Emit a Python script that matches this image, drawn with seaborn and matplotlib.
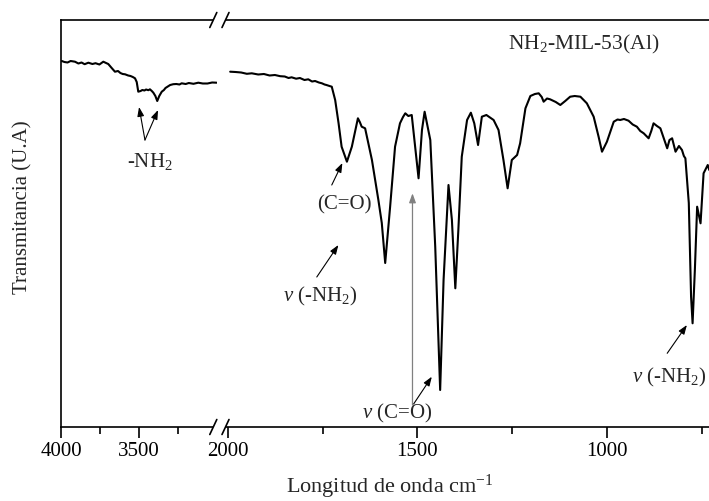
import matplotlib
matplotlib.use("Agg")
import matplotlib.pyplot as plt
import seaborn as sns
import pandas as pd
from matplotlib.lines import Line2D
from matplotlib.patches import Polygon

# ---------------- data ----------------
wn_high = [3997, 3980, 3960, 3940, 3912, 3890, 3870, 3850, 3826, 3800, 3780, 3755,
           3730, 3712, 3698, 3676, 3655, 3635, 3620, 3605, 3590, 3570, 3555, 3540,
           3526, 3515, 3505, 3490, 3479, 3465, 3455, 3440, 3430, 3418, 3408, 3395,
           3383, 3370, 3354, 3340, 3330, 3315, 3300, 3280, 3260, 3240, 3226, 3200,
           3180, 3150, 3119, 3090, 3060, 3030, 3001]
t_high = [366, 365, 364.5, 366, 365.3, 363.5, 364.5, 362.8, 364.3, 363, 363.8, 362.5,
          365.3, 364, 363, 359, 355.3, 356, 354, 353, 352.7, 351.5, 351, 350,
          348.7, 345, 335.3, 336, 337, 336.5, 337.5, 336.8, 337.7, 336, 334.3, 331,
          326, 331, 335.3, 337, 339, 340.5, 342, 342.8, 343, 342.5, 343.7, 343,
          344, 343.2, 344.3, 343.5, 343.5, 344.5, 344.3]

wn_low = [1994, 1980, 1965, 1950, 1937, 1920, 1905, 1890, 1876, 1862, 1850, 1840,
          1832, 1820, 1810, 1798, 1788, 1778, 1770, 1760, 1752, 1745, 1740, 1732,
          1726, 1717, 1708, 1700, 1686, 1673, 1657, 1652, 1647, 1638, 1620, 1603,
          1594, 1585, 1572, 1559, 1546, 1538, 1532, 1524, 1515, 1506, 1497, 1488,
          1481, 1466, 1453, 1440, 1431, 1418, 1409, 1400, 1392, 1383, 1369, 1359,
          1350, 1340, 1330, 1318, 1299, 1286, 1273, 1262, 1251, 1237, 1229, 1215,
          1202, 1190, 1180, 1172, 1167, 1158, 1150, 1135, 1123, 1110, 1097, 1085,
          1070, 1053, 1035, 1022, 1013, 1000, 982, 972, 965, 955, 943, 932, 921,
          912, 903, 896, 890, 883, 877, 868, 859, 850, 841, 835, 828, 819, 810,
          802, 797, 793, 784, 778, 774, 768, 762, 753, 745, 734, 730]
t_low = [355.3, 355, 354.5, 353.2, 353.7, 352.5, 353, 351.5, 352, 350.8, 350.5, 349,
         349.7, 348.3, 349, 347, 347.7, 345.5, 346, 344.5, 343.7, 342.5, 342, 341,
         340.3, 327, 303.7, 280.3, 265.3, 280.3, 308.7, 305, 300.3, 298.7, 267, 227,
         204, 164, 220.3, 280.3, 303.7, 310, 313.7, 311, 312, 280.3, 248.7, 297,
         315.3, 287, 180.3, 37, 147, 242, 207, 138.7, 197, 270.3, 307, 314.3,
         303.7, 282, 310.3, 312, 307, 297, 267, 238.7, 267, 272, 283.7, 318.7,
         331, 333, 333.7, 330, 325.3, 328.5, 327.7, 325, 322, 326, 330.3, 331,
         330.3, 323.7, 310.3, 290.3, 275.3, 285.3, 305.3, 307.5, 307, 308, 306.3, 302.5, 300.3,
         296, 293.7, 291, 288.7, 296, 303.7, 301, 298.7, 288.7, 278.7, 287, 288.7, 275.3, 281,
         277, 271, 268.7, 224, 130.3, 103.7, 157, 220.3, 203.7, 253.7, 262, 257]

xticks_high = [4000, 3500]
xminor_high = [3750, 3250]
xticks_low = [2000, 1500, 1000]
xminor_low = [1750, 1250, 750]

title_text = "NH$_2$-MIL-53(Al)"
xlabel_text = "Longitud de onda cm$^{-1}$"
ylabel_text = "Transmitancia (U.A)"

# ---------------- style ----------------
sns.set_style("ticks")
plt.rcParams["font.family"] = ["Liberation Serif", "DejaVu Serif"]
plt.rcParams["mathtext.fontset"] = "custom"
plt.rcParams["mathtext.rm"] = "Liberation Serif"
plt.rcParams["mathtext.it"] = "Liberation Serif:italic"
plt.rcParams["mathtext.bf"] = "Liberation Serif:bold"

W, H = 709, 501
fig = plt.figure(figsize=(W / 100, H / 100), dpi=100)

def fx(px):
    return px / W

def fy(py):
    return 1 - py / H

ax_top, ax_bot = 20, 427
axL = fig.add_axes([fx(61.3), fy(ax_bot), fx(217 - 61.3), (ax_bot - ax_top) / H])
axR = fig.add_axes([fx(224), fy(ax_bot), fx(709 - 224), (ax_bot - ax_top) / H])

df_high = pd.DataFrame({"wn": wn_high, "t": t_high})
df_low = pd.DataFrame({"wn": wn_low, "t": t_low})
sns.lineplot(data=df_high, x="wn", y="t", ax=axL, color="black", lw=1.5, sort=False)
sns.lineplot(data=df_low, x="wn", y="t", ax=axR, color="black", lw=1.5, sort=False)

axL.set_xlim(4000, 2998.7)
axR.set_xlim(2010.3, 730.7)
for ax in (axL, axR):
    ax.set_ylim(0, 407)
    ax.set_yticks([])
    ax.set_xlabel("")
    ax.set_ylabel("")
    for s in ax.spines.values():
        s.set_linewidth(1.2)
        s.set_color("black")
    ax.tick_params(axis="x", which="major", direction="out", length=8, width=1.2,
                   labelsize=15, pad=3, color="black", labelcolor="black")
    ax.tick_params(axis="x", which="minor", direction="out", length=5, width=1.2,
                   color="black")
    ax.set_facecolor("white")

axL.spines["right"].set_visible(False)
axR.spines["left"].set_visible(False)
axR.spines["right"].set_visible(False)
axL.set_xticks(xticks_high)
axL.set_xticks(xminor_high, minor=True)
axR.set_xticks(xticks_low)
axR.set_xticks(xminor_low, minor=True)

# ---------------- annotations ----------------
arrow = dict(arrowstyle="-|>,head_length=0.55,head_width=0.2", lw=0.8, color="black",
             shrinkA=0, shrinkB=0)
FS = 15
axL.annotate("", xy=(3500, 320), xytext=(3462, 287), arrowprops=arrow)
axL.annotate("", xy=(3378, 317), xytext=(3462, 287), arrowprops=arrow)
axL.text(3430, 265, "-NH$_2$", ha="center", va="center", fontsize=FS)

axR.annotate("", xy=(1698, 264), xytext=(1726, 242), arrowprops=arrow)
axR.text(1693, 222, "(C=O)", ha="center", va="center", fontsize=FS)

axR.annotate("", xy=(1708.5, 182), xytext=(1765.5, 150), arrowprops=arrow)
axR.text(1757, 131, "$\\mathit{v}$ (-NH$_2$)", ha="center", va="center", fontsize=FS)

gray_arrow = dict(arrowstyle="-|>,head_length=0.55,head_width=0.2", lw=0.9, color="#808080",
                  shrinkA=0, shrinkB=0)
axR.annotate("", xy=(1513, 233.7), xytext=(1513, 22), arrowprops=gray_arrow)
axR.annotate("", xy=(1462, 50.3), xytext=(1510, 23), arrowprops=arrow)
axR.text(1554, 14, "$\\mathit{v}$ (C=O)", ha="center", va="center", fontsize=FS)

axR.annotate("", xy=(789, 102), xytext=(841, 73.7), arrowprops=arrow)
axR.text(933, 50, "$\\mathit{v}$ (-NH$_2$)", ha="left", va="center", fontsize=FS)

axR.text(1062, 383, title_text, ha="center", va="center", fontsize=15.5)

fig.text(fx(23), fy(207), ylabel_text, rotation=90, ha="center", va="center", fontsize=15)
fig.text(fx(390), fy(487), xlabel_text, ha="center", va="center", fontsize=16)

# ---------------- axis break marks ----------------
for yb in (ax_top, ax_bot):
    poly = Polygon([(fx(209.8), fy(yb + 7.5)), (fx(216.8), fy(yb - 7.5)),
                    (fx(229.0), fy(yb - 7.5)), (fx(222.0), fy(yb + 7.5))],
                   closed=True, transform=fig.transFigure, facecolor="white",
                   edgecolor="none", zorder=10)
    fig.add_artist(poly)
    for x0 in (209.8, 222.0):
        fig.add_artist(Line2D([fx(x0), fx(x0 + 7.0)], [fy(yb + 7.5), fy(yb - 7.5)],
                              transform=fig.transFigure, color="black", lw=1.2, zorder=11))

fig.savefig("out.png", dpi=100)
